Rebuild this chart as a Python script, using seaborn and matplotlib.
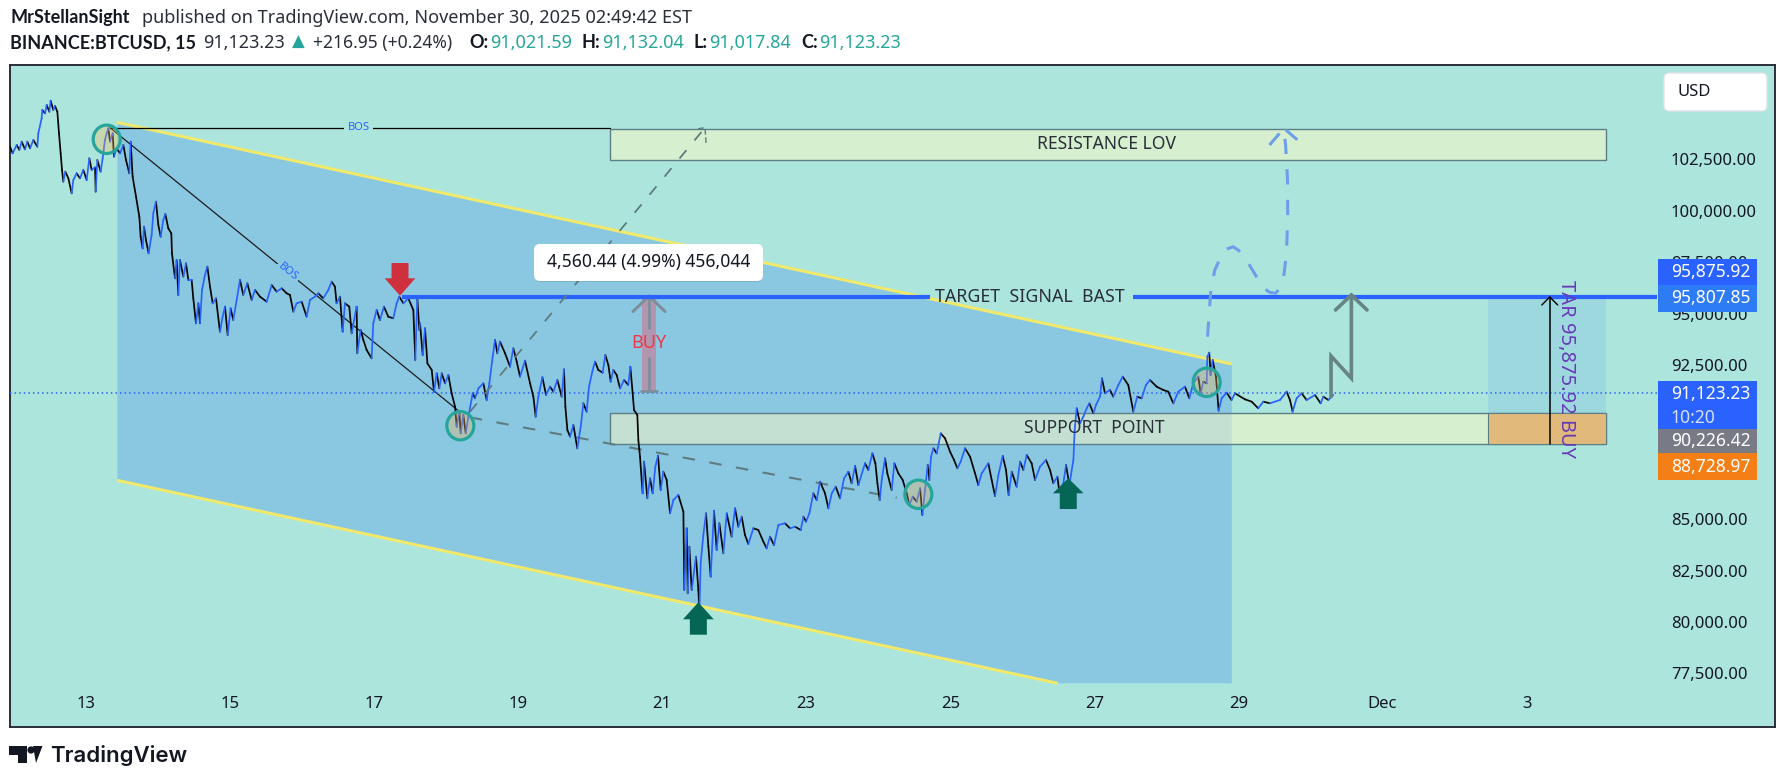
import matplotlib
matplotlib.use("Agg")
import matplotlib.pyplot as plt
import numpy as np
import pandas as pd
import seaborn as sns
from matplotlib.patches import Polygon, Rectangle, Ellipse, FancyBboxPatch, Circle
from matplotlib.transforms import IdentityTransform

# ---------- price trace (day of Nov/Dec, USD) ----------
days_a = [11.949,11.986,12.042,12.079,12.111,12.157,12.190,12.227,12.273,12.328,12.342,12.388,12.398,12.435,12.458,12.495,12.513,12.550,12.574,12.606,12.629,12.652,12.671,12.689,12.717,12.759,12.805,12.828,12.874,12.920,12.967,13.013,13.050,13.082,13.129,13.138,13.161,13.207,13.235,13.267,13.291,13.314,13.337,13.374,13.392,13.429,13.476,13.522,13.559,13.605,13.624,13.651,13.698,13.744,13.762,13.790,13.809,13.836,13.873,13.915,13.938,13.975,14.008,14.040,14.077,14.105,14.146,14.188,14.197,14.239,14.262,14.285,14.308,14.355,14.392,14.424,14.470,14.493,14.530,14.563,14.586,14.614,14.655,14.688,14.725,14.762,14.808,14.863,14.900,14.933,14.970,15.011,15.048,15.095,15.141,15.187,15.243,15.303,15.349,15.419,15.511,15.581,15.650,15.719,15.789,15.835,15.881,15.927,15.997,16.066,16.112,16.182,16.228,16.297,16.367,16.413,16.459,16.482,16.529,16.566,16.598,16.658,16.691,16.760,16.769,16.816,16.853,16.899,16.968,16.991,17.038,17.084,17.139,17.199,17.269,17.315,17.352,17.408,17.477,17.547,17.574,17.602,17.630]
prices_a = [103120,102796,103201,102958,103363,102990,103363,103039,103444,103120,103768,104498,104903,104741,105146,104822,105357,104903,105098,104822,103768,102796,101985,101417,101904,101580,100850,101498,101823,101580,101985,101498,102552,101985,102115,100931,102471,101904,102552,103444,103768,104011,103363,103768,102633,103039,102796,103201,102471,101823,103363,101661,100688,99715,98742,98175,99229,98580,97932,98823,99877,100445,99310,98742,99553,99845,99148,98904,97932,96716,97607,95905,97607,96797,97445,96635,96635,95743,94527,95500,94527,96148,96878,97283,96310,95500,95743,94122,94851,95337,93959,95256,94689,95662,96635,95905,96472,95662,96148,95824,95581,96391,96067,96229,95986,95905,95094,95500,95581,94851,95662,95824,95986,95743,96148,96554,96310,95500,95824,94122,95500,95337,94040,95337,93068,94203,93716,93230,92825,94527,95175,94689,95337,94851,94770,95500,95824,95500,95743,95175,92743,95743,94203]

days_b = [17.640,17.677,17.709,17.742,17.802,17.834,17.871,17.908,17.941,17.987,18.033,18.079,18.126,18.149,18.186,18.204,18.241,18.274,18.311,18.371,18.403,18.450,18.519,18.565,18.602,18.648,18.681,18.713,18.750,18.820,18.889,18.935,18.982,19.028,19.097,19.167,19.213,19.245,19.282,19.338,19.389,19.444,19.490,19.546,19.606,19.638,19.657,19.685,19.722,19.768,19.823,19.870,19.907,19.953,19.985,20.036,20.069,20.115,20.175,20.212,20.254,20.286,20.323,20.369,20.416,20.471,20.531,20.559,20.591,20.610,20.656,20.670,20.693,20.716,20.730,20.749,20.795,20.832,20.869,20.906,20.943,20.980,21.017,21.063,21.110,21.156,21.225,21.295,21.308,21.341,21.355,21.378,21.410,21.470,21.503,21.517,21.535,21.572,21.609,21.642,21.674,21.720,21.757,21.794,21.850,21.896,21.965,22.012,22.058,22.104,22.150,22.197,22.266,22.335,22.405,22.451,22.497,22.553,22.613]
prices_b = [94527,92986,94284,92581,92257,91203,92095,91365,92095,91608,92014,91122,90473,89501,90230,89176,90068,89176,89987,91122,90879,91365,91608,90798,91608,92905,93716,93068,93635,93068,92419,93311,92662,91933,92711,91608,90960,89987,90960,91900,91041,91446,91203,91770,90960,92289,90473,89339,89014,89582,88447,89501,90636,90230,91446,92257,92662,92257,92127,92986,92500,91689,92257,92014,91365,91770,91527,92419,91122,90311,90068,88852,88041,86907,86258,87798,86015,86988,86258,87555,88090,86420,87312,86907,85285,85934,86177,85366,81556,84556,81394,83664,81556,83178,81556,80502,82853,84231,85285,83664,82205,85415,83502,84799,83340,85285,84150,85528,84637,85123,84231,83794,84556,84475,83907,83583,84150,83745,84718]

days_c = [22.706,22.776,22.845,22.924,22.961,22.998,23.044,23.099,23.146,23.192,23.261,23.308,23.354,23.409,23.469,23.525,23.585,23.631,23.678,23.724,23.816,23.863,23.918,23.960,23.988,24.020,24.048,24.094,24.126,24.186,24.223,24.279,24.339,24.395,24.432,24.478,24.534,24.580,24.612,24.649,24.686,24.709,24.732,24.765,24.811,24.867,24.927,24.996,25.052,25.098,25.144,25.204,25.274,25.343,25.389,25.435,25.528,25.574,25.621,25.667,25.727,25.773,25.810,25.852,25.921,25.968,26.014,26.060,26.129,26.176,26.245,26.328,26.384,26.430,26.486,26.513,26.569,26.606,26.652,26.708,26.726,26.754,26.800,26.846,26.893,26.930]
prices_c = [84798,84555,84636,84474,85123,84880,85285,86258,85933,86825,86258,85528,86258,86582,86014,86987,87311,86744,87587,86663,87717,87393,88203,87717,86744,85933,86906,87960,87230,86420,87717,87230,86906,86258,85690,86096,85852,86501,85204,86420,87636,86906,88041,88446,88203,89176,88933,88284,87879,87474,87798,88446,88041,87230,86663,87230,87717,86906,86128,87149,88073,87393,86177,87311,86582,87798,87393,88122,87717,86906,87555,87879,87393,86744,87068,86339,86744,87636,86663,87879,89338,90392,89662,89987,90392,90635]

days_d = [26.985,27.022,27.077,27.105,27.146,27.216,27.262,27.332,27.392,27.470,27.540,27.595,27.655,27.715,27.771,27.864,27.956,28.025,28.095,28.164,28.257,28.317,28.372,28.442,28.474,28.511,28.558,28.567,28.594,28.613,28.641,28.687,28.724,28.766,28.835,28.904,28.951,29.089,29.182,29.274,29.344,29.436,29.575,29.668,29.714,29.751,29.806,29.876,29.945,30.061,30.140,30.177,30.246,30.315]
prices_d = [90149,90554,90960,91851,91122,91284,90960,91527,91933,91527,90230,90960,90879,91527,91770,91446,91284,91203,90636,91203,91446,90879,91608,91933,91122,91689,91608,92905,93100,92014,92743,91933,90279,90879,91154,90798,91122,90830,90717,90392,90717,90636,90798,91203,90798,90230,90879,91122,90798,91041,90636,90960,90798,91041]

# ---------- axis text ----------
x_tick_days = [13,15,17,19,21,23,25,27,29,31,33]
x_tick_labels = ["13","15","17","19","21","23","25","27","29","Dec","3"]
y_tick_prices = [77500,80000,82500,85000,87500,90000,92500,95000,97500,100000,102500]
y_tick_hidden = [87500, 90000]
target_price = 95807.85
target_label = 95875.92
last_price = 91123.23
support_top, support_bottom = 90150, 88643
resistance_top, resistance_bottom = 103993, 102456

# ---------- annotation vertices ----------
channel_days = [13.44,28.907,28.907,26.49,13.44]
channel_prices = [104305,92548,77018,77018,86892]
upper_line_days, upper_line_prices = [13.43,28.907],[104305,92548]
lower_line_days, lower_line_prices = [13.434,26.49],[86892,77018]
bos_line_days, bos_line_prices = [13.337,18.172],[104042,90277]
bos_flat_days, bos_flat_prices = [13.337,20.27],[104042,104042]
dash_up_days, dash_up_prices = [18.334,21.595],[90228,104042]
dash_up_head_days, dash_up_head_prices = [21.50,21.595,21.61],[103990,104042,103300]
dash_down_days, dash_down_prices = [18.33,24.256],[89955,86045]
forecast_days = [28.57,28.616,28.671,28.756,28.83,28.924,29.00,29.093,29.215,29.335,29.43,29.515,29.59,29.627,29.665,29.683,29.68,29.655,29.63]
forecast_prices = [93876,96148,97120,97767,98130,98254,98080,97690,97000,96279,96040,95987,96300,96795,97900,99713,101500,103118,104012]
forecast_head_days, forecast_head_prices = [29.43,29.63,29.863],[103200,104012,103312]
zig_days, zig_prices = [30.284,30.284,30.566,30.566],[90958,92937,91853,95904]
zig_head_days, zig_head_prices = [30.346,30.566,30.784],[95175,95904,95175]
circle_days = [13.291,18.199,24.556,28.558]
circle_prices = [103478,89547,86210,91658]
green_tip_days = [21.503,26.637]
green_tip_prices = [80957,86989]
green_base_prices = [80131,86259]
green_tail_prices = [79381,85495]
buy_day = 20.818

BG = "#ACE5DC"
CHANNEL = "#8AC8E2"
YELLOW = "#F0E96C"
BLUE = "#2962FF"
DARK = "#131722"
EDGE = "#5B7F86"
TEAL = "#26A69A"
GREY = "#5E7C80"
FONT = ["Noto Sans", "DejaVu Sans"]
BOLD = ["Lato", "DejaVu Sans"]

sns.set_theme(style="white")
plt.rcParams["font.family"] = FONT
W, H = 1785, 782
fig = plt.figure(figsize=(W/100, H/100), dpi=100, facecolor="white")
ax = fig.add_axes([10/W, 1-727/H, 1765/W, 662/H], facecolor=BG)

# channel
ax.add_patch(Polygon(list(zip(channel_days, channel_prices)), closed=True, fc=CHANNEL, ec="none", zorder=1))
ax.plot(upper_line_days, upper_line_prices, color=YELLOW, lw=2.2, zorder=2, solid_capstyle="butt")
ax.plot(lower_line_days, lower_line_prices, color=YELLOW, lw=2.2, zorder=2, solid_capstyle="butt")

# zones
zone_face = (1.0, 0.976, 0.77, 0.5)
for top, bot in [(resistance_top, resistance_bottom), (support_top, support_bottom)]:
    ax.add_patch(Rectangle((20.27, bot), 34.107-20.27, top-bot, fc=zone_face, ec=EDGE, lw=1.0, zorder=3))
ax.add_patch(Rectangle((32.465, support_top), 34.107-32.465, target_price-support_top, fc="#9ED8DF", ec="none", zorder=2.5))
ax.add_patch(Rectangle((32.465, support_bottom), 34.107-32.465, support_top-support_bottom, fc="#E1B97B", ec=EDGE, lw=0.8, zorder=3.2))

# trend and dashed guide lines
ax.plot(bos_line_days, bos_line_prices, color="#1c1c1c", lw=0.9, zorder=4)
ax.plot(bos_flat_days, bos_flat_prices, color="black", lw=0.9, zorder=4)
ax.plot(dash_up_days, dash_up_prices, color=GREY, lw=1.3, ls=(0,(6,7)), zorder=7.5)
ax.plot(dash_up_head_days, dash_up_head_prices, color=GREY, lw=1.0, ls=(0,(4,2)), zorder=7.5)
ax.plot(dash_down_days, dash_down_prices, color=GREY, lw=1.5, ls=(0,(6,7)), zorder=4)

# current-price and target lines
ax.plot([11.949, 34.81], [last_price, last_price], color=BLUE, lw=1.1, ls=(0,(1,2)), zorder=4.5)
ax.plot([17.386, 24.72], [target_price, target_price], color=BLUE, lw=3.0, zorder=6, solid_capstyle="butt")
ax.plot([27.53, 34.81], [target_price, target_price], color=BLUE, lw=3.0, zorder=6, solid_capstyle="butt")

# price trace: each stroke coloured by direction
trace_days = days_a + days_b + days_c + days_d
trace_prices = prices_a + prices_b + prices_c + prices_d
rows = []
for i in range(len(trace_days)-1):
    direction = "up" if trace_prices[i+1] >= trace_prices[i] else "down"
    rows.append((i, trace_days[i], trace_prices[i], direction))
    rows.append((i, trace_days[i+1], trace_prices[i+1], direction))
trace = pd.DataFrame(rows, columns=["stroke", "day", "price", "direction"])
sns.lineplot(data=trace, x="day", y="price", hue="direction", units="stroke", estimator=None, sort=False,
             palette={"up": "#2962FF", "down": "#050505"}, legend=False, lw=1.25, zorder=5, ax=ax)

# circles
for d, p in zip(circle_days, circle_prices):
    ax.add_patch(Ellipse((d, p), 0.375, 1380, fc=(1.0, 0.72, 0.30, 0.32), ec=TEAL, lw=2.3, zorder=6))

# red arrow
red_day = 17.362
ax.add_patch(Polygon([(red_day-.118,97461),(red_day+.118,97461),(red_day+.118,96717),(red_day+.213,96717),
                      (red_day,95870),(red_day-.213,96717),(red_day-.118,96717)], fc="#CF303E", ec="none", zorder=7))
# green arrows
for d, tip, base, tail in zip(green_tip_days, green_tip_prices, green_base_prices, green_tail_prices):
    ax.add_patch(Polygon([(d,tip),(d+.213,base),(d+.118,base),(d+.118,tail),(d-.118,tail),(d-.118,base),(d-.213,base)],
                         fc="#056656", ec="none", zorder=7))

# buy column
ax.add_patch(Rectangle((buy_day-.101, 91250), .202, 95875-91250, fc="#B295AE", ec="none", zorder=5.5))
ax.plot([buy_day-.11, buy_day+.11], [91250, 91250], color="#7E8F9B", lw=2, zorder=5.6)
ax.plot([buy_day, buy_day], [95860, 94300], color="#7E8F9B", lw=2, zorder=5.6)
ax.plot([buy_day, buy_day], [92840, 91250], color="#7E8F9B", lw=2, zorder=5.6)
ax.plot([buy_day-.222, buy_day, buy_day+.222], [95100, 95860, 95100], color="#7E8F9B", lw=2.2, zorder=5.6)
ax.text(buy_day, 93555, "BUY", color="#F23645", fontsize=13, ha="center", va="center", zorder=7)

# forecast path and zig arrow
ax.plot(forecast_days, forecast_prices, color="#6E9EEA", lw=2.2, ls=(0,(5,5)), zorder=6.5)
ax.plot(forecast_head_days, forecast_head_prices, color="#6E9EEA", lw=2.2, ls=(0,(5,3)), zorder=6.5)
ax.plot(zig_days, zig_prices, color="#668482", lw=2.6, zorder=6.5, solid_joinstyle="miter")
ax.plot(zig_head_days, zig_head_prices, color="#668482", lw=2.6, zorder=6.5, solid_joinstyle="miter")

# position arrow
ax.plot([33.32, 33.32], [support_bottom, target_price], color="black", lw=1.1, zorder=6.6)
ax.plot([33.21, 33.32, 33.43], [95420, target_price, 95420], color="black", lw=1.0, zorder=6.6)

# labels on chart
ax.text(15.81, 97038, "BOS", color="#2962FF", fontsize=8, rotation=-39, ha="center", va="center", rotation_mode="anchor",
        zorder=7, bbox=dict(fc=CHANNEL, ec="none", pad=1.5))
ax.text(16.79, 104042, "BOS", color="#2962FF", fontsize=8, ha="center", va="center",
        zorder=7, bbox=dict(fc=BG, ec="none", pad=2.5))
ax.text(27.17, 103260, "RESISTANCE LOV", color="#2A2E39", fontsize=12.6, ha="center", va="center", zorder=7)
ax.text(26.11, 95807, "TARGET  SIGNAL  BAST", color="#2A2E39", fontsize=12.8, ha="center", va="center", zorder=7)
ax.text(27.0, 89420, "SUPPORT  POINT", color="#2A2E39", fontsize=12.6, ha="center", va="center", zorder=7)
ax.text(33.55, 92300, "TAR 95,875.92 BUY", color="#673AB7", fontsize=14.5, rotation=270, ha="center", va="center", zorder=7)

# price tags
tags = [(97641, 96391, "95,875.92", BLUE), (96391, 95092, "95,807.85", "#2E7BF6"), (91707, 89387, "91,123.23", BLUE),
        (89387, 88219, "90,226.42", "#787B86"), (88219, 86906, "88,728.97", "#F57F17")]
for top, bot, text, colour in tags:
    ax.add_patch(Rectangle((34.822, bot), 1.37, top-bot, fc=colour, ec="none", zorder=10))
    y = (top+bot)/2 if text != "91,123.23" else 91110
    ax.text(35.0, y, text, color="white", fontsize=12.6, ha="left", va="center", zorder=11)
ax.text(35.0, 89900, "10:20", color="#D6E0FF", fontsize=12.6, ha="left", va="center", zorder=11)

# axes
ax.set_xlim(11.949, 36.446)
ax.set_ylim(74892, 107092)
ax.set_xlabel(""); ax.set_ylabel("")
ax.set_xticks(x_tick_days, x_tick_labels)
ax.set_yticks(y_tick_prices, [f"{v:,.2f}" if v not in y_tick_hidden else "" for v in y_tick_prices])
ax.yaxis.tick_right()
ax.tick_params(axis="x", length=0, pad=-22, labelsize=12, labelcolor=DARK)
ax.tick_params(axis="y", length=0, pad=-75, labelsize=12, labelcolor=DARK)
ax.grid(False)
for s in ax.spines.values():
    s.set_visible(True); s.set_color("#2A2E39"); s.set_linewidth(1.4)

# pixel-placed furniture
def yf(y): return H - y
def box(x0, y0, x1, y1, fc="white", ec="none", rad=5, z=12, **kw):
    p = FancyBboxPatch((x0+rad, yf(y1)+rad), x1-x0-2*rad, y1-y0-2*rad, boxstyle=f"round,pad={rad},rounding_size={rad}",
                       fc=fc, ec=ec, transform=IdentityTransform(), zorder=z, **kw)
    fig.add_artist(p)

def txt(x, y, s, color=DARK, size=12, weight="normal", **kw):
    fig.text(x/W, 1-y/H, s, color=color, fontsize=size, fontweight=weight, va="center", ha=kw.pop("ha","left"), **kw)

box(1664, 73, 1767, 111, ec="#E0E3EB", rad=5)
fig.text(1677/W, 1-92/H, "USD", color=DARK, fontsize=12, va="center", ha="left", zorder=13)
box(535, 245, 763, 282, fc=(0,0,0,0.10), rad=6, z=11)
box(534, 244, 763, 281, rad=6, z=12)
fig.text(648.5/W, 1-262.5/H, "4,560.44 (4.99%) 456,044", color=DARK, fontsize=12.6, va="center", ha="center", zorder=13)

txt(10, 18, "MrStellanSight", size=13, weight="bold", family=BOLD)
txt(142, 18, "published on TradingView.com, November 30, 2025 02:49:42 EST", size=13, color="#2A2E39")
txt(10, 43, "BINANCE:BTCUSD, 15", size=13, weight="bold", family=BOLD)
txt(203, 43, "91,123.23", size=13, color="#2A2E39")
txt(292, 42, "▲", size=12, color=TEAL, family="DejaVu Sans")
txt(313, 43, "+216.95 (+0.24%)", size=12.6, color="#2A2E39")
for x0, lab, x1, val in [(469,"O:",490,"91,021.59"),(581.5,"H:",602,"91,132.04"),(693.5,"L:",709.5,"91,017.84"),(801,"C:",819,"91,123.23")]:
    txt(x0, 43, lab, size=13, weight="bold", family=BOLD)
    txt(x1, 43, val, size=13, color=TEAL)

# logo
for pts in [[(9,746),(27,746),(27,763),(18,763),(18,755),(9,755)], [(36,763),(42.5,746),(33,746)]]:
    fig.add_artist(Polygon([(x, yf(y)) for x, y in pts], closed=True, fc=DARK, ec="none", transform=IdentityTransform()))
fig.add_artist(Circle((31, yf(750)), 3.6, fc=DARK, ec="none", transform=IdentityTransform()))
txt(50, 755, "TradingView", size=16, weight="semibold", color=DARK, family=["Inter","DejaVu Sans"])

fig.savefig("out.png", dpi=100, facecolor="white")
